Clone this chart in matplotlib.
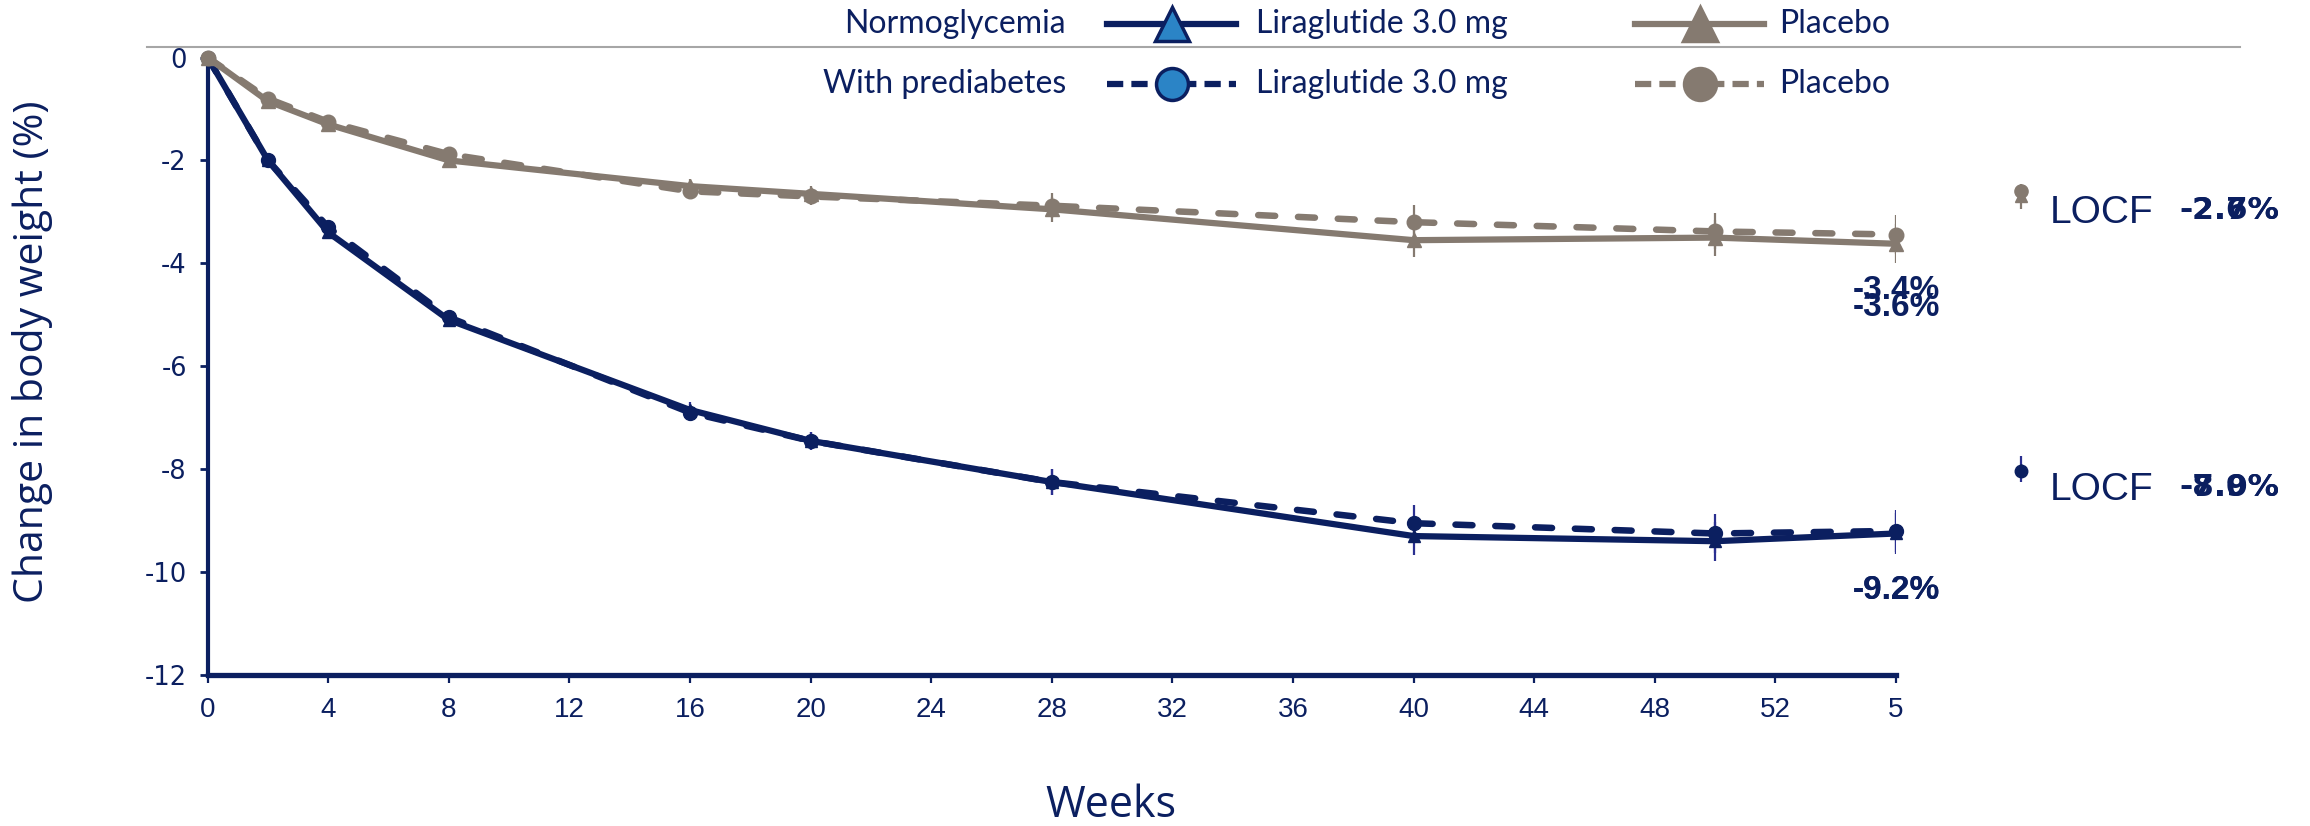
import matplotlib
matplotlib.use("Agg")
import matplotlib.pyplot as plt
from matplotlib.lines import Line2D
from matplotlib import font_manager

# ---------------- data ----------------
weeks = [0, 2, 4, 8, 16, 20, 28, 40, 50, 56]
lira_normo = [0, -2.0, -3.4, -5.1, -6.85, -7.45, -8.25, -9.3, -9.4, -9.25]
lira_pre = [0, -2.0, -3.3, -5.05, -6.9, -7.45, -8.25, -9.05, -9.25, -9.2]
plac_normo = [0, -0.85, -1.3, -2.0, -2.5, -2.65, -2.95, -3.55, -3.5, -3.62]
plac_pre = [0, -0.8, -1.25, -1.88, -2.6, -2.7, -2.88, -3.2, -3.38, -3.44]
lira_err = [0, 0.08, 0.1, 0.12, 0.16, 0.18, 0.26, 0.36, 0.38, 0.4]
plac_err = [0, 0.06, 0.08, 0.1, 0.14, 0.16, 0.24, 0.33, 0.35, 0.38]

locf_lira = {"normo": -8.0, "pre": -7.9}
locf_plac = {"normo": -2.7, "pre": -2.6}
locf_err = 0.25

end_labels_plac = ["-3.4%", "-3.6%"]
end_labels_lira = ["-9.2%", "-9.2%"]
locf_labels_plac = ["-2.7%", "-2.6%"]
locf_labels_lira = ["-8.0%", "-7.9%"]

xticks = list(range(0, 57, 4))
xtick_labels = [str(t) for t in xticks[:-1]] + ["5"]
yticks = [0, -2, -4, -6, -8, -10, -12]

legend_rows = ["Normoglycemia", "With prediabetes"]
legend_cols = ["Liraglutide 3.0 mg", "Placebo"]

# ---------------- style ----------------
NAVY = "#0B1F60"
GRAY = "#857A70"
LIGHTBLUE = "#2B84C6"
ERR_NAVY = "#2A2F90"

W, H = 2310, 826
fig = plt.figure(figsize=(W / 100, H / 100), dpi=100)

def fx(px):
    return px / W

def fy(py):
    return 1 - py / H

installed = {f.name for f in font_manager.fontManager.ttflist}
narrow = "Liberation Sans Narrow" if "Liberation Sans Narrow" in installed else "Liberation Sans"

ax_left, ax_right, ax_top, ax_bot = 207.7, 1896, 57.5, 675
ax = fig.add_axes([fx(ax_left), fy(ax_bot), fx(ax_right - ax_left), (ax_bot - ax_top) / H])

ax.set_xlim(0, 56)
ax.set_ylim(-12, 0)

solid_lw = 4.5
dash_lw = 4.7
dash_pat = (2.6, 3.5)

# error bars
ax.errorbar(weeks, lira_normo, yerr=lira_err, fmt="none", ecolor=ERR_NAVY, elinewidth=1.6, capsize=0, zorder=2)
ax.errorbar(weeks, lira_pre, yerr=lira_err, fmt="none", ecolor=ERR_NAVY, elinewidth=1.6, capsize=0, zorder=2)
ax.errorbar(weeks, plac_normo, yerr=plac_err, fmt="none", ecolor=GRAY, elinewidth=1.6, capsize=0, zorder=2)
ax.errorbar(weeks, plac_pre, yerr=plac_err, fmt="none", ecolor=GRAY, elinewidth=1.6, capsize=0, zorder=2)

# liraglutide lines
ax.plot(weeks, lira_pre, color=NAVY, lw=dash_lw, dashes=dash_pat, dash_capstyle="round",
        marker="o", ms=10, mfc=NAVY, mec=NAVY, clip_on=False, zorder=3)
ax.plot(weeks, lira_normo, color=NAVY, lw=solid_lw, marker="^", ms=9, mfc=NAVY, mec=NAVY,
        clip_on=False, zorder=3)
# placebo lines
ax.plot(weeks, plac_pre, color=GRAY, lw=dash_lw, dashes=dash_pat, dash_capstyle="round",
        marker="o", ms=10.5, mfc=GRAY, mec=GRAY, clip_on=False, zorder=4)
ax.plot(weeks, plac_normo, color=GRAY, lw=solid_lw, marker="^", ms=9.5, mfc=GRAY, mec=GRAY,
        clip_on=False, zorder=4)

# end labels
val_font = dict(family="Liberation Sans", fontweight="bold", fontsize=24, color=NAVY,
                ha="center", va="center", clip_on=False)
ax.text(weeks[-1], plac_pre[-1] - 1.08, end_labels_plac[0], **val_font)
ax.text(weeks[-1], plac_normo[-1] - 1.23, end_labels_plac[1], **val_font)
ax.text(weeks[-1], lira_pre[-1] - 1.16, end_labels_lira[0], **val_font)
ax.text(weeks[-1], lira_normo[-1] - 1.11, end_labels_lira[1], **val_font)

# LOCF markers and labels
locf_x = 60.15
ax.errorbar([locf_x], [locf_plac["normo"]], yerr=locf_err, fmt="none", ecolor=GRAY, elinewidth=1.6, capsize=0, clip_on=False)
ax.errorbar([locf_x], [locf_lira["normo"]], yerr=locf_err, fmt="none", ecolor=ERR_NAVY, elinewidth=1.6, capsize=0, clip_on=False)
ax.plot([locf_x], [locf_plac["normo"]], marker="^", ms=9, color=GRAY, clip_on=False, zorder=5)
ax.plot([locf_x], [locf_plac["pre"]], marker="o", ms=9.5, color=GRAY, clip_on=False, zorder=5)
ax.plot([locf_x], [locf_lira["normo"]], marker="^", ms=7, color=NAVY, clip_on=False, zorder=5)
ax.plot([locf_x], [locf_lira["pre"] - 0.13], marker="o", ms=9, color=NAVY, clip_on=False, zorder=5)

locf_font = dict(family="Liberation Sans", fontsize=28, color=NAVY, ha="left", va="center", clip_on=False)
ax.text(61.1, -3.03, "LOCF", **locf_font)
ax.text(61.1, -8.41, "LOCF", **locf_font)
rv_font = dict(family="DejaVu Sans", fontweight="bold", fontsize=22.5, color=NAVY, ha="center",
               va="center", clip_on=False)
for lab in locf_labels_plac:
    ax.text(67.05, -2.97, lab, **rv_font)
for lab in locf_labels_lira:
    ax.text(67.05, -8.36, lab, **rv_font)

# axes styling
for s in ["top", "right"]:
    ax.spines[s].set_visible(False)
ax.spines["left"].set_color(NAVY)
ax.spines["left"].set_linewidth(3)
ax.spines["bottom"].set_color(NAVY)
ax.spines["bottom"].set_linewidth(3.8)

ax.set_xticks(xticks)
ax.set_xticklabels(xtick_labels, family=narrow, fontsize=20, color=NAVY)
ax.set_yticks(yticks)
ax.set_yticklabels([str(v) for v in yticks], family="DejaVu Sans", fontsize=18.5, color=NAVY)
ax.tick_params(axis="x", direction="out", length=6, width=1.6, color=NAVY, pad=10)
ax.tick_params(axis="y", direction="out", length=6, width=2, color=NAVY, pad=9)

fig.text(fx(33), fy(352), "Change in body weight (%)", rotation=90, ha="center", va="center",
         family="Open Sans", fontsize=29.5, color=NAVY)
fig.text(fx(1111), fy(806), "Weeks", ha="center", va="center", family="Open Sans",
         fontsize=31, color=NAVY)

# ---------------- legend (manual) ----------------
fig.add_artist(Line2D([fx(147), fx(2240)], [fy(47), fy(47)], color="#A6A6A6", lw=1.5))
row_y = [24, 84]
leg_font = dict(family="Lato", fontsize=23, color=NAVY, va="center")
for ry, lab in zip(row_y, legend_rows):
    fig.text(fx(1066), fy(ry), lab, ha="right", **leg_font)

samples = [
    # (x0, x1, y, color, dashed, marker, face)
    (1107, 1236, row_y[0], NAVY, False, "^", LIGHTBLUE),
    (1107, 1236, row_y[1], NAVY, True, "o", LIGHTBLUE),
    (1635, 1764, row_y[0], GRAY, False, "^", GRAY),
    (1635, 1764, row_y[1], GRAY, True, "o", GRAY),
]
for x0, x1, y, c, dashed, mk, face in samples:
    ln = Line2D([fx(x0), fx(x1)], [fy(y), fy(y)], color=c, lw=4.5)
    if dashed:
        ln.set_dashes((2.6, 1.3))
    fig.add_artist(ln)
    fig.add_artist(Line2D([fx((x0 + x1) / 2)], [fy(y)], marker=mk, ms=23 if mk == "o" else 24,
                          mfc=face, mec=c, mew=2.5, linestyle="none"))
for ry in row_y:
    fig.text(fx(1256), fy(ry), legend_cols[0], ha="left", **leg_font)
    fig.text(fx(1779), fy(ry), legend_cols[1], ha="left", **leg_font)

fig.savefig("out.png", dpi=100)
